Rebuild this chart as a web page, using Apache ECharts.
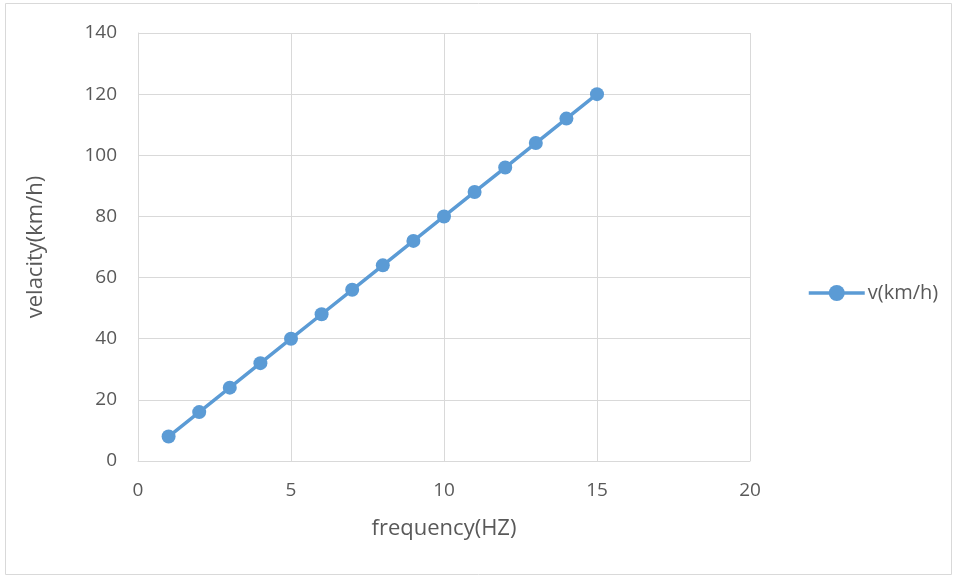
<!DOCTYPE html>
<html>
<head>
<meta charset="utf-8">
<script src="https://cdn.jsdelivr.net/npm/echarts@6/dist/echarts.min.js"></script>
<style>
  html, body { margin: 0; padding: 0; background: #fff; }
  #chart { width: 955px; height: 578px; }
</style>
</head>
<body>
<div id="chart"></div>
<script>
const frequency = [1, 2, 3, 4, 5, 6, 7, 8, 9, 10, 11, 12, 13, 14, 15]
const velocity = [8, 16, 24, 32, 40, 48, 56, 64, 72, 80, 88, 96, 104, 112, 120]
const seriesName = 'v(km/h)'

const chart = echarts.init(document.getElementById('chart'))
const font = 'Open Sans, Liberation Sans, sans-serif'
const gridLine = { show: true, lineStyle: { color: '#d9d9d9', width: 1 } }

chart.setOption({
  animation: false,
  textStyle: { fontFamily: font },
  graphic: [{
    type: 'rect',
    shape: { x: 5.5, y: 3.5, width: 946, height: 571 },
    style: { fill: 'none', stroke: '#d9d9d9', lineWidth: 1 },
    silent: true
  }],
  grid: { left: 138, right: 205, top: 33, bottom: 117 },
  legend: {
    left: 802,
    top: 278,
    itemWidth: 56,
    itemHeight: 20,
    itemGap: 4,
    data: [seriesName],
    lineStyle: { width: 3.5 },
    textStyle: { color: '#595959', fontSize: 20, fontFamily: font, padding: [0, 0, 0, -2] }
  },
  xAxis: {
    type: 'value',
    min: 0,
    max: 20,
    interval: 5,
    name: 'frequency(HZ)',
    nameLocation: 'middle',
    nameGap: 57,
    nameTextStyle: { color: '#595959', fontSize: 22 },
    axisLine: { show: true, onZero: false, lineStyle: { color: '#d9d9d9' } },
    axisTick: { show: false },
    axisLabel: { color: '#595959', fontSize: 19, margin: 20 },
    splitLine: gridLine
  },
  yAxis: {
    type: 'value',
    min: 0,
    max: 140,
    interval: 20,
    name: 'velacity(km/h)',
    nameLocation: 'middle',
    nameGap: 91,
    nameTextStyle: { color: '#595959', fontSize: 22 },
    axisLine: { show: true, lineStyle: { color: '#d9d9d9' } },
    axisTick: { show: false },
    axisLabel: { color: '#595959', fontSize: 19, margin: 21 },
    splitLine: gridLine
  },
  series: [{
    name: seriesName,
    type: 'line',
    data: frequency.map((f, i) => [f, velocity[i]]),
    symbol: 'circle',
    symbolSize: 14,
    lineStyle: { color: '#5b9bd5', width: 3.5 },
    itemStyle: { color: '#5b9bd5' }
  }]
})
</script>
</body>
</html>
